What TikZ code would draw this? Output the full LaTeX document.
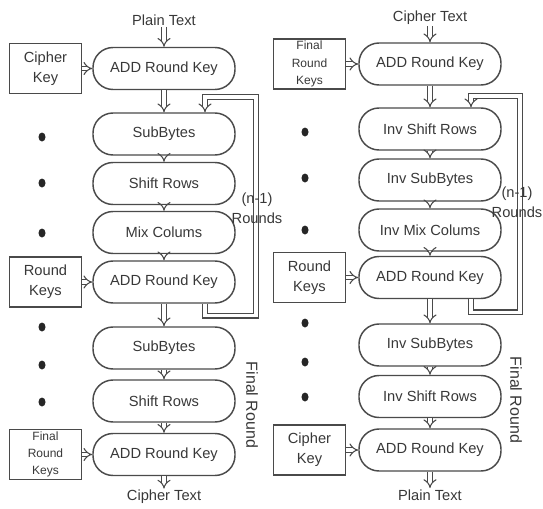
\documentclass[tikz,border=0pt]{standalone}
\usepackage{fontspec}
\setmainfont{Liberation Sans}
\usetikzlibrary{arrows.meta,calc}
\definecolor{ink}{HTML}{383838}
\definecolor{edge}{HTML}{4A4A4A}
\begin{document}
\begin{tikzpicture}[x=0.75pt,y=-0.75pt,
  stage/.style={draw=edge, line width=1.1pt, rounded corners=15pt,
    minimum width=106.5pt, minimum height=31.5pt, inner sep=0pt,
    font=\fontsize{11}{13}\selectfont, text=ink},
  keybox/.style={draw=edge, line width=1.1pt, minimum width=54pt,
    minimum height=37.5pt, inner sep=0pt, align=center,
    font=\fontsize{11}{15}\selectfont, text=ink},
  smallkey/.style={keybox, font=\fontsize{9}{13}\selectfont},
  txt/.style={text=ink, font=\fontsize{11}{13}\selectfont, inner sep=1pt},
  rounds/.style={txt, align=center, font=\fontsize{11}{15}\selectfont},
  sidetxt/.style={txt, rotate=-90, font=\fontsize{12}{14}\selectfont},
  flow/.style={draw=edge, line width=0.8pt, double=white,
    double distance=2.6pt, -{Implies}},
  bullet/.style={fill=black!85}
]
\useasboundingbox (0,0) rectangle (543,508);

% ---------------- encryption ----------------
\node[txt] (ptin) at (164,20) {Plain Text};
\node[stage] (l0) at (164,68.5) {ADD Round Key};
\node[stage] (l1) at (164,134) {SubBytes};
\node[stage] (l2) at (164,183.5) {Shift Rows};
\node[stage] (l3) at (164,232.5) {Mix Colums};
\node[stage] (l4) at (164,282) {ADD Round Key};
\node[stage] (l5) at (164,348) {SubBytes};
\node[stage] (l6) at (164,401) {Shift Rows};
\node[stage] (l7) at (164,454.5) {ADD Round Key};
\node[txt] (ctout) at (164,497) {Cipher Text};

\node[keybox] (lk0) at (45.5,68.5) {Cipher\\Key};
\node[keybox] (lk4) at (45.5,282) {Round\\Keys};
\node[smallkey] (lk7) at (45.5,454.5) {Final\\Round\\Keys};

\draw[flow] (ptin) -- (l0);
\draw[flow] (l0) -- (l1);
\draw[flow] (l1) -- (l2);
\draw[flow] (l2) -- (l3);
\draw[flow] (l3) -- (l4);
\draw[flow] (l4) -- (l5);
\draw[flow] (l5) -- (l6);
\draw[flow] (l6) -- (l7);
\draw[flow] (l7) -- (ctout);
\draw[flow] (lk0) -- (l0);
\draw[flow] (lk4) -- (l4);
\draw[flow] (lk7) -- (l7);

\coordinate (lloop) at (256,97);
\draw[flow] ($(l4.south)+(41,0)$) -- ++(0,12) -| (lloop) -| ($(l1.north)+(41,0)$);

\node[rounds] (lrounds) at (257,208) {(n-1)\\Rounds};
\node[sidetxt] (lfinal) at (252,405) {Final Round};

\foreach \y in {137,183,233,327,365,402}
  \fill[bullet] (42,\y) ellipse [x radius=3.5, y radius=4.5];

% ---------------- decryption ----------------
\node[txt] (ctin) at (430,18) {Cipher Text};
\node[stage] (r0) at (430,64) {ADD Round Key};
\node[stage] (r1) at (430,129) {Inv Shift Rows};
\node[stage] (r2) at (430,180) {Inv SubBytes};
\node[stage] (r3) at (430,230) {Inv Mix Colums};
\node[stage] (r4) at (430,277.5) {ADD Round Key};
\node[stage] (r5) at (430,345) {Inv SubBytes};
\node[stage] (r6) at (430,396.5) {Inv Shift Rows};
\node[stage] (r7) at (430,450) {ADD Round Key};
\node[txt] (ptout) at (430,495) {Plain Text};

\node[smallkey] (rk0) at (309.5,64) {Final\\Round\\Keys};
\node[keybox] (rk4) at (309.5,277.5) {Round\\Keys};
\node[keybox] (rk7) at (309.5,450) {Cipher\\Key};

\draw[flow] (ctin) -- (r0);
\draw[flow] (r0) -- (r1);
\draw[flow] (r1) -- (r2);
\draw[flow] (r2) -- (r3);
\draw[flow] (r3) -- (r4);
\draw[flow] (r4) -- (r5);
\draw[flow] (r5) -- (r6);
\draw[flow] (r6) -- (r7);
\draw[flow] (r7) -- (ptout);
\draw[flow] (rk0) -- (r0);
\draw[flow] (rk4) -- (r4);
\draw[flow] (rk7) -- (r7);

\coordinate (rloop) at (520,96);
\draw[flow] ($(r4.south)+(41,0)$) -- ++(0,13) -| (rloop) -| ($(r1.north)+(41,0)$);

\node[rounds] (rrounds) at (517,202) {(n-1)\\Rounds};
\node[sidetxt] (rfinal) at (516,400) {Final Round};

\foreach \y in {132,178,230,323,362,397}
  \fill[bullet] (305,\y) ellipse [x radius=3.5, y radius=4.5];
\end{tikzpicture}
\end{document}
